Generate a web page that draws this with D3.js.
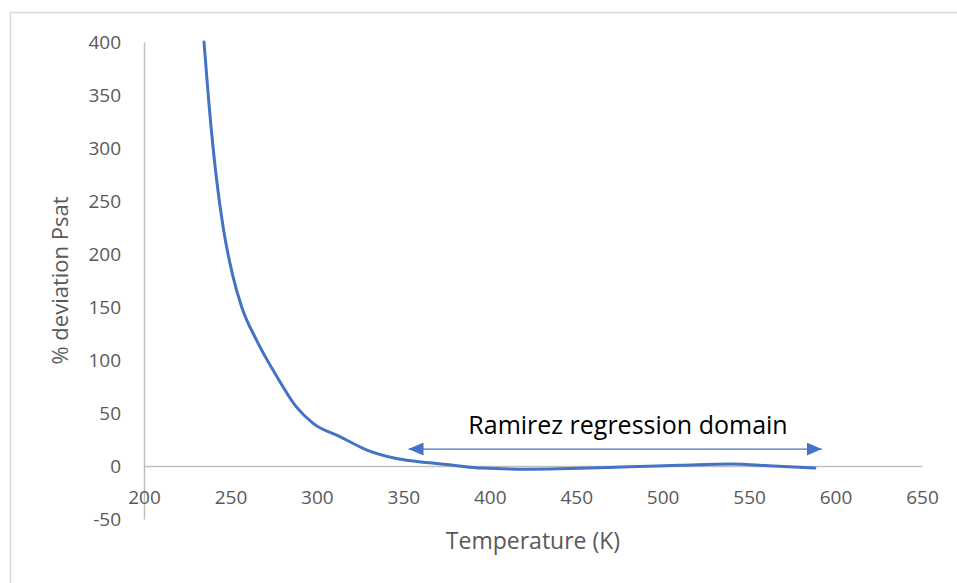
<!DOCTYPE html>
<html>
<head>
  <meta charset="utf-8">
  <script src="https://d3js.org/d3.v7.min.js"></script>
  <style>
    body { margin: 0; background: #fff; }
    .axis text { font-family: "Open Sans", sans-serif; fill: #595959; }
    .axis path { stroke: #bfbfbf; stroke-width: 1.5px; }
  </style>
</head>
<body>
  <div id="chart_div"></div>

  <script>
    // Data
    var temperature = [234.7, 237.4, 242, 246, 251, 256.5, 265, 277, 288, 298, 313, 329, 346, 365, 380, 395, 423, 452, 481, 510, 539, 564, 588];
    var deviation   = [400, 345, 270, 223, 182, 150, 119, 84, 56, 40, 28, 15, 7, 3, 0.5, -2, -3, -2.2, -0.6, 0.6, 1.9, 0, -2];
    var xTicks = [200, 250, 300, 350, 400, 450, 500, 550, 600, 650];
    var yTicks = [-50, 0, 50, 100, 150, 200, 250, 300, 350, 400];
    var domainRange = [353, 592];   // Ramirez regression domain (K)
    var domainLevel = 16;           // arrow height (% dev)

    var data = temperature.map(function(t, i) { return { t: t, v: deviation[i] }; });

    var W = 957, H = 583;
    var svg = d3.select("#chart_div")
      .append("svg")
      .attr("width", W)
      .attr("height", H);

    svg.append("rect")
      .attr("x", 0).attr("y", 0).attr("width", W).attr("height", H)
      .attr("fill", "#fff");

    // chart frame (only top/left visible)
    svg.append("rect")
      .attr("x", 10.5).attr("y", 12.5)
      .attr("width", 1000).attr("height", 700)
      .attr("fill", "none")
      .attr("stroke", "#d9d9d9")
      .attr("stroke-width", 1.5);

    var x = d3.scaleLinear().domain([200, 650]).range([144, 922]);
    var y = d3.scaleLinear().domain([-50, 400]).range([519, 42]);

    var plain = function(d) { return String(d); };  // hyphen minus like the original

    // y axis
    var yAxis = svg.append("g")
      .attr("class", "axis")
      .attr("transform", "translate(" + x(200) + ",0)")
      .call(d3.axisLeft(y).tickValues(yTicks).tickFormat(plain).tickSize(0).tickPadding(23));
    yAxis.selectAll("text").style("font-size", "19px");

    // x axis at y = 0
    var xAxis = svg.append("g")
      .attr("class", "axis")
      .attr("transform", "translate(0," + y(0) + ")")
      .call(d3.axisBottom(x).tickValues(xTicks).tickFormat(plain).tickSize(0).tickPadding(25));
    xAxis.selectAll("text").style("font-size", "19px");

    // curve
    var line = d3.line()
      .x(function(d) { return x(d.t); })
      .y(function(d) { return y(d.v); })
      .curve(d3.curveMonotoneX);

    svg.append("path")
      .datum(data)
      .attr("fill", "none")
      .attr("stroke", "#4472c4")
      .attr("stroke-width", 3)
      .attr("stroke-linecap", "round")
      .attr("d", line);

    // double-headed arrow for regression domain
    var defs = svg.append("defs");
    defs.append("marker")
      .attr("id", "arrowEnd")
      .attr("viewBox", "0 0 15 13")
      .attr("refX", 15).attr("refY", 6.5)
      .attr("markerUnits", "userSpaceOnUse")
      .attr("markerWidth", 15).attr("markerHeight", 13)
      .attr("orient", "auto-start-reverse")
      .append("path")
      .attr("d", "M0,0 L15,6.5 L0,13 Z")
      .attr("fill", "#4472c4");

    svg.append("line")
      .attr("x1", x(domainRange[0])).attr("x2", x(domainRange[1]))
      .attr("y1", y(domainLevel)).attr("y2", y(domainLevel))
      .attr("stroke", "#4472c4")
      .attr("stroke-width", 1.3)
      .attr("marker-start", "url(#arrowEnd)")
      .attr("marker-end", "url(#arrowEnd)");

    svg.append("text")
      .attr("x", 628)
      .attr("y", 434)
      .attr("text-anchor", "middle")
      .style("font-family", "'Open Sans', sans-serif")
      .style("font-size", "25px")
      .style("fill", "#000")
      .text("Ramirez regression domain");

    // axis titles
    svg.append("text")
      .attr("x", 533)
      .attr("y", 549)
      .attr("text-anchor", "middle")
      .style("font-family", "'Open Sans', sans-serif")
      .style("font-size", "23px")
      .style("fill", "#595959")
      .text("Temperature (K)");

    svg.append("text")
      .attr("transform", "translate(68," + (y(-50) + y(400)) / 2 + ") rotate(-90)")
      .attr("text-anchor", "middle")
      .style("font-family", "'Open Sans', sans-serif")
      .style("font-size", "22px")
      .style("fill", "#595959")
      .text("% deviation Psat");
  </script>
</body>
</html>
